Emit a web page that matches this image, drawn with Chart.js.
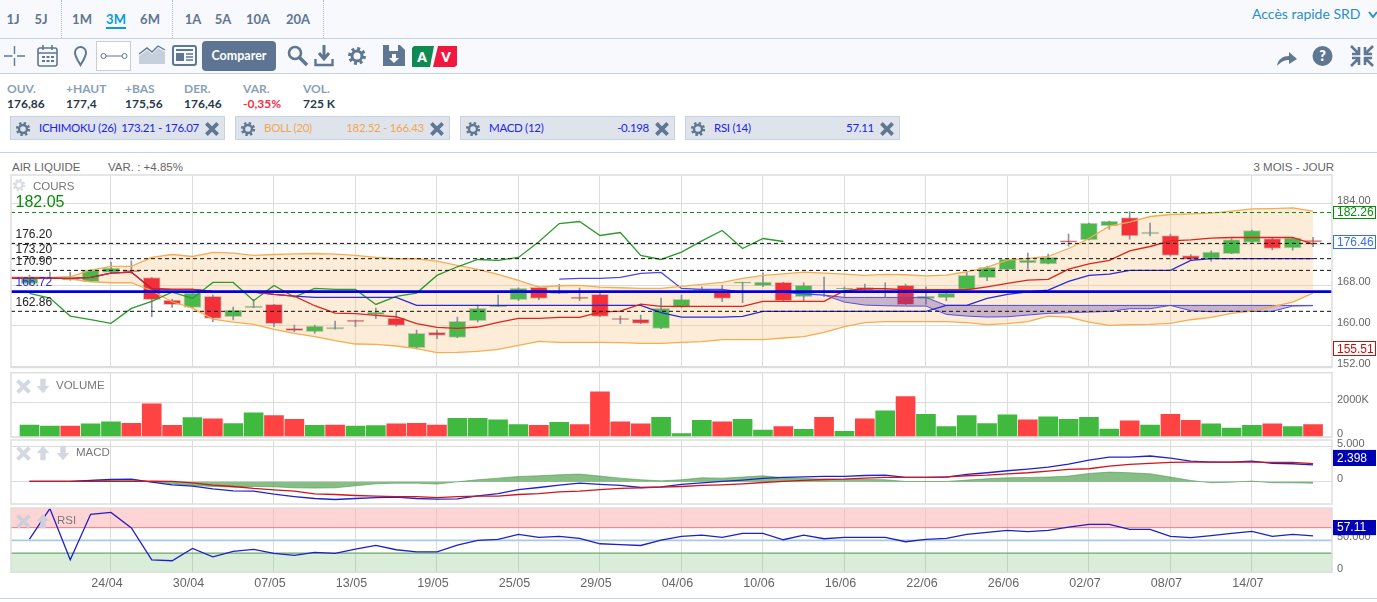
<!DOCTYPE html>
<html lang="fr">
<head>
<meta charset="utf-8">
<title>AIR LIQUIDE - 3 mois</title>
<script src="https://cdn.jsdelivr.net/npm/chart.js@4/dist/chart.umd.min.js"></script>
<style>
  html, body { margin: 0; padding: 0; background: #fff; overflow: hidden; }
  body { width: 1377px; height: 602px; position: relative; font-family: Lato, "Open Sans", sans-serif; }
  .abs, canvas { position: absolute; }
  .bar { left: 0; width: 1377px; background: #f8f9fd; border-bottom: 1px solid #c6d3e0; box-sizing: border-box; }
  .tab { top: 11px; font-size: 13px; font-weight: 700; color: #5f7590; transform: translateX(-50%); }
  .sep { top: 0; height: 38px; border-left: 1px dotted #aebccb; }
  .lab { top: 81px; font-size: 12px; font-weight: 700; color: #8a9fb8; }
  .val { top: 96px; font-size: 12px; font-weight: 700; color: #27384a; }
  .chip { top: 116px; height: 24px; background: #dfe4ec; border: 1px solid #c6d3e0; box-sizing: border-box; }
  .chip span { position: absolute; top: 4px; font-size: 11.5px; letter-spacing: -0.3px; white-space: nowrap; }
  .pane { font-family: "Liberation Sans", Arial, sans-serif; font-size: 11.5px; color: #777; z-index: 3; }
  .info { top: 161px; font-family: "Liberation Sans", Arial, sans-serif; font-size: 11.5px; color: #666; }
  svg { position: absolute; overflow: visible; }
</style>
</head>
<body>
<svg width="0" height="0">
  <symbol id="gear" viewBox="-10 -10 20 20" overflow="visible">
    <circle r="5" fill="none" stroke="currentColor" stroke-width="3"/>
    <circle r="7.4" fill="none" stroke="currentColor" stroke-width="3" stroke-dasharray="3 2.8"/>
  </symbol>
  <symbol id="cross" viewBox="-10 -10 20 20"><path d="M-7-7L7 7M7-7L-7 7" stroke="currentColor" stroke-width="4.6"/></symbol>
  <symbol id="down" viewBox="-10 -10 20 20"><path d="M-3-8H3V0H7L0 8L-7 0H-3Z" fill="currentColor"/></symbol>
  <symbol id="up" viewBox="-10 -10 20 20"><path d="M-3 8H3V0H7L0-8L-7 0H-3Z" fill="currentColor"/></symbol>
</svg>

<div class="abs bar" style="top:0;height:39px"></div>
<div class="abs bar" style="top:39px;height:35px"></div>
<div class="abs sep" style="left:61px"></div><div class="abs sep" style="left:172px"></div><div class="abs sep" style="left:323px"></div>
<div class="abs tab" style="left:13px">1J</div><div class="abs tab" style="left:41px">5J</div>
<div class="abs tab" style="left:82px">1M</div><div class="abs tab" style="left:116px;color:#0a9bd6">3M</div><div class="abs tab" style="left:150px">6M</div>
<div class="abs tab" style="left:193px">1A</div><div class="abs tab" style="left:223px">5A</div><div class="abs tab" style="left:258px">10A</div><div class="abs tab" style="left:298px">20A</div>
<div class="abs" style="left:106px;top:27px;width:20px;height:2px;background:#0a9bd6"></div>
<div class="abs" style="left:1252px;top:5px;font-size:14px;color:#2a8fc9">Accès rapide SRD</div>
<svg style="left:1368px;top:10px" width="9" height="9"><path d="M1 2L5 7L9 2" fill="none" stroke="#2a8fc9" stroke-width="2"/></svg>

<!-- barre d'outils -->
<svg style="left:0;top:39px" width="470" height="34" color="#5f7792">
  <path d="M14.5 7V15M14.5 19V27M4 17H12.5M17 17H25" stroke="#5f7792" stroke-width="1.4" fill="none"/>
  <rect x="38" y="9" width="19" height="18" rx="2" fill="none" stroke="#5f7792" stroke-width="1.6"/>
  <path d="M38 14H57M43 6V11M52 6V11" stroke="#5f7792" stroke-width="1.6"/>
  <path d="M42 17h3v2h-3zM46.5 17h3v2h-3zM51 17h3v2h-3zM42 21h3v2h-3zM46.5 21h3v2h-3zM51 21h3v2h-3z" fill="#5f7792"/>
  <path d="M80.5 26C77 20 75 17.5 75 13.5A5.5 5.5 0 0 1 86 13.5C86 17.5 84 20 80.5 26Z" fill="none" stroke="#5f7792" stroke-width="2"/>
  <rect x="96.5" y="2.5" width="34" height="29" fill="#fff" stroke="#c9ced4"/>
  <path d="M106 17H122" stroke="#5f7792"/><circle cx="103.5" cy="17" r="2.5" fill="#fff" stroke="#5f7792"/><circle cx="124.5" cy="17" r="2.5" fill="#fff" stroke="#5f7792"/>
  <path d="M139 25V17L147 11L152 15L158 9L165 13V25Z" fill="#c5d0dc"/><path d="M139 15L147 9L152 13L158 7L165 11" fill="none" stroke="#5f7792" stroke-width="1.4"/>
  <rect x="173" y="7" width="23" height="19" rx="2" fill="none" stroke="#5f7792" stroke-width="2"/>
  <path d="M176 11H193" stroke="#5f7792" stroke-width="2"/><rect x="176" y="14" width="8" height="8" fill="#5f7792"/><path d="M186 15H193M186 18H193M186 21H193" stroke="#5f7792" stroke-width="1.4"/>
  <circle cx="295" cy="14" r="6" fill="none" stroke="#5f7792" stroke-width="2.6"/><path d="M299.5 18.5L307 26" stroke="#5f7792" stroke-width="3.5"/>
  <path d="M324 6V19M319 14L324 20L329 14" fill="none" stroke="#5f7792" stroke-width="3"/><path d="M315.5 20V26H332.5V20" fill="none" stroke="#5f7792" stroke-width="2.4"/>
  <use href="#gear" x="347" y="7" width="20" height="20"/>
  <path d="M383 6H400L405 11V27H383Z" fill="#5f7792"/><rect x="389" y="6" width="9" height="6" fill="#f8f9fd"/><path d="M392 15H396V19H399L394 24L389 19H392Z" fill="#f8f9fd"/>
  <path d="M414 7H434L430 28H412V9Z" fill="#0e8a52"/><path d="M438 7H457V26L455 28H433Z" fill="#f0183e"/>
  <text x="422" y="23" font-size="13.5" font-weight="800" fill="#fff" text-anchor="middle" font-family="Lato">A</text>
  <text x="446" y="23" font-size="13.5" font-weight="800" fill="#fff" text-anchor="middle" font-family="Lato">V</text>
</svg>
<div class="abs" style="left:202px;top:41px;width:74px;height:30px;line-height:30px;background:#5d7592;border-radius:4px;color:#fff;font-size:12.5px;font-weight:700;text-align:center">Comparer</div>
<svg style="left:1270px;top:39px" width="107" height="34">
  <path d="M7 27C8 20 13 17 19 17V13L27 20L19 25V21C14 21 11 23 7 27Z" fill="#5f7792"/>
  <circle cx="52.5" cy="17" r="10" fill="#5f7792"/>
  <text x="52.5" y="22" font-size="14" font-weight="800" fill="#fff" text-anchor="middle" font-family="Lato">?</text>
  <path d="M81 7L89 15M89 8V15H82M103 7L95 15M95 8V15H102M81 27L89 19M89 26V19H82M103 27L95 19M95 26V19H102" fill="none" stroke="#5f7792" stroke-width="2.6"/>
</svg>

<!-- cotation -->
<div class="abs lab" style="left:7px">OUV.</div><div class="abs val" style="left:7px">176,86</div>
<div class="abs lab" style="left:66px">+HAUT</div><div class="abs val" style="left:66px">177,4</div>
<div class="abs lab" style="left:125px">+BAS</div><div class="abs val" style="left:125px">175,56</div>
<div class="abs lab" style="left:184px">DER.</div><div class="abs val" style="left:184px">176,46</div>
<div class="abs lab" style="left:243px">VAR.</div><div class="abs val" style="left:243px;color:#f0304a">-0,35%</div>
<div class="abs lab" style="left:303px">VOL.</div><div class="abs val" style="left:303px">725 K</div>

<!-- indicateurs -->
<div class="abs chip" style="left:10px;width:215px;color:#5f7792">
  <svg style="left:4px;top:4px" width="16" height="16"><use href="#gear" width="16" height="16"/></svg>
  <span style="left:28px;color:#2222ee">ICHIMOKU (26)</span><span style="right:25px;color:#2222ee">173.21 - 176.07</span>
  <svg style="right:4px;top:4px" width="16" height="16"><use href="#cross" width="16" height="16"/></svg>
</div>
<div class="abs chip" style="left:235px;width:215px;color:#5f7792">
  <svg style="left:4px;top:4px" width="16" height="16"><use href="#gear" width="16" height="16"/></svg>
  <span style="left:28px;color:#f0a850">BOLL (20)</span><span style="right:25px;color:#f0a850">182.52 - 166.43</span>
  <svg style="right:4px;top:4px" width="16" height="16"><use href="#cross" width="16" height="16"/></svg>
</div>
<div class="abs chip" style="left:460px;width:215px;color:#5f7792">
  <svg style="left:4px;top:4px" width="16" height="16"><use href="#gear" width="16" height="16"/></svg>
  <span style="left:28px;color:#2222ee">MACD (12)</span><span style="right:25px;color:#2222ee">-0.198</span>
  <svg style="right:4px;top:4px" width="16" height="16"><use href="#cross" width="16" height="16"/></svg>
</div>
<div class="abs chip" style="left:685px;width:215px;color:#5f7792">
  <svg style="left:4px;top:4px" width="16" height="16"><use href="#gear" width="16" height="16"/></svg>
  <span style="left:28px;color:#2222ee">RSI (14)</span><span style="right:25px;color:#2222ee">57.11</span>
  <svg style="right:4px;top:4px" width="16" height="16"><use href="#cross" width="16" height="16"/></svg>
</div>
<div class="abs" style="left:0;top:152px;width:1377px;border-top:1px solid #c6d3e0"></div>
<div class="abs info" style="left:12px">AIR LIQUIDE</div>
<div class="abs info" style="left:108px">VAR. : +4.85%</div>
<div class="abs info" style="right:43px">3 MOIS - JOUR</div>

<canvas id="cours" width="1377" height="205" style="left:0;top:170px"></canvas>
<canvas id="volume" width="1377" height="72" style="left:0;top:368px"></canvas>
<canvas id="macd" width="1377" height="68" style="left:0;top:438px"></canvas>
<canvas id="rsi" width="1377" height="85" style="left:0;top:505px"></canvas>
<div class="abs" style="left:0;top:598px;width:1377px;border-top:1px solid #c6d3e0"></div>

<!-- libellés des panneaux -->
<svg class="abs" style="left:12px;top:178px;z-index:3;color:#d7dce4" width="14" height="14"><use href="#gear" width="14" height="14"/></svg>
<div class="abs pane" style="left:33px;top:180px">COURS</div>
<svg class="abs" style="left:15px;top:378px;z-index:3;color:#d3d8e2" width="17" height="17"><use href="#cross" width="17" height="17"/></svg>
<svg class="abs" style="left:34px;top:377px;z-index:3;color:#d3d8e2" width="18" height="18"><use href="#down" width="18" height="18"/></svg>
<div class="abs pane" style="left:56px;top:379px">VOLUME</div>
<svg class="abs" style="left:15px;top:445px;z-index:3;color:#d3d8e2" width="17" height="17"><use href="#cross" width="17" height="17"/></svg>
<svg class="abs" style="left:34px;top:444px;z-index:3;color:#d3d8e2" width="18" height="18"><use href="#up" width="18" height="18"/></svg>
<svg class="abs" style="left:54px;top:444px;z-index:3;color:#d3d8e2" width="18" height="18"><use href="#down" width="18" height="18"/></svg>
<div class="abs pane" style="left:76px;top:446px">MACD</div>
<svg class="abs" style="left:15px;top:513px;z-index:3;color:#cdd0da" width="17" height="17"><use href="#cross" width="17" height="17"/></svg>
<svg class="abs" style="left:34px;top:512px;z-index:3;color:#cdd0da" width="18" height="18"><use href="#up" width="18" height="18"/></svg>
<div class="abs pane" style="left:57px;top:514px">RSI</div>

<script>
const tickLabels = ["24/04", "30/04", "07/05", "13/05", "19/05", "25/05", "29/05", "04/06", "10/06", "16/06", "22/06", "26/06", "02/07", "08/07", "14/07"];
const tickIndexes = [4, 8, 12, 16, 20, 24, 28, 32, 36, 40, 44, 48, 52, 56, 60];

// bougies
const openValues = [168.27,169.32,168.99,168.67,170.50,170.89,169.51,165.07,163.63,165.79,161.80,163.57,164.22,159.51,158.86,159.38,161.15,162.19,161.54,155.72,158.73,157.75,161.02,163.76,165.14,167.55,166.77,165.66,166.18,161.48,161.28,159.51,163.63,166.90,166.70,168.40,167.88,168.53,165.72,166.70,167.29,167.55,166.51,167.95,165.33,165.53,167.16,169.45,171.02,172.39,172.19,176.77,176.90,179.65,181.28,178.08,177.75,173.83,173.24,174.16,176.38,177.16,175.33,176.86];
const closeValues = [169.45,169.51,169.19,170.95,171.35,170.63,165.14,164.16,166.44,161.48,163.11,163.89,160.43,159.06,159.97,159.71,160.82,162.72,160.10,158.53,158.14,160.89,163.44,163.96,167.36,165.40,166.31,165.33,161.87,161.21,160.50,163.44,165.20,167.16,165.40,168.60,168.60,164.94,167.95,166.90,167.42,167.03,166.90,164.16,165.85,166.44,169.91,171.48,173.11,172.91,173.44,176.44,180.17,180.56,177.68,178.40,173.83,173.04,174.48,176.97,178.73,175.20,177.23,176.46];
const highValues = [169.97,170.56,170.56,170.95,172.52,172.78,169.51,165.20,166.44,166.05,163.70,165.20,164.22,160.17,160.17,160.95,161.15,163.50,162.78,159.19,159.19,161.74,164.09,166.05,167.49,167.68,168.14,167.42,166.38,161.93,162.13,165.46,166.05,167.68,167.95,168.60,170.43,168.53,168.47,169.58,167.68,168.21,168.47,168.21,167.68,167.03,170.76,171.74,173.24,174.29,174.09,178.01,180.17,180.56,182.46,180.17,178.01,174.02,174.74,177.16,178.80,177.29,177.36,177.40];
const lowValues = [168.01,169.25,168.99,168.67,170.30,170.30,161.80,163.63,163.63,160.82,161.15,163.57,159.84,158.86,158.53,159.38,159.84,161.41,159.97,155.46,157.49,157.69,160.76,163.76,164.94,165.14,166.31,164.94,161.80,160.43,160.43,159.45,163.63,166.83,164.74,164.55,167.68,164.94,164.94,165.72,165.59,166.90,165.72,164.16,164.29,164.94,167.16,168.86,170.95,171.15,172.19,175.66,176.90,178.99,177.03,177.68,173.70,172.91,172.72,174.16,176.38,174.94,174.87,175.56];

// bollinger et ichimoku : le premier point est la veille de la premiere bougie
const bollUpper = [169.51,169.51,169.51,169.65,170.95,171.67,171.67,173.44,174.02,173.63,174.42,174.29,173.83,174.02,174.16,174.22,174.09,173.83,173.44,173.18,173.18,172.72,171.87,171.08,170.10,168.93,167.62,167.88,167.95,167.62,167.49,167.36,167.36,167.75,168.14,168.53,169.32,169.91,170.23,170.56,170.37,170.17,169.91,170.10,170.04,169.84,169.97,170.63,171.54,172.91,173.24,173.63,175.20,177.16,179.58,180.36,181.48,181.87,182.00,182.13,182.52,182.98,183.04,183.18,182.52];
const bollLower = [169.51,169.51,169.51,169.25,168.67,168.47,168.47,166.90,164.74,163.50,161.35,160.76,160.30,159.32,158.53,157.88,157.10,156.44,156.38,156.05,155.53,154.74,154.81,155.01,155.40,156.18,156.97,156.77,156.77,156.77,156.70,156.57,156.57,156.77,156.90,157.29,157.29,157.29,157.62,157.88,158.73,159.84,160.63,160.82,160.82,160.82,160.82,160.63,160.23,160.43,160.82,161.93,161.74,160.76,160.10,160.23,160.30,160.50,161.21,161.67,162.46,162.91,163.76,164.68,166.43];
const kijunValues = [169.38,169.38,169.38,169.32,169.51,170.36,170.56,167.29,167.16,167.16,166.77,166.64,166.64,166.18,165.85,163.96,162.52,162.39,162.06,161.80,160.43,159.71,159.51,159.78,160.69,161.48,161.48,161.67,161.67,162.72,162.91,164.29,163.83,163.83,163.83,163.83,163.83,164.81,164.81,164.81,164.81,166.90,167.29,167.29,167.10,167.10,167.10,167.10,167.68,168.34,168.99,169.12,171.15,172.19,172.85,174.74,175.59,176.70,176.90,177.23,177.36,177.36,177.36,177.36,176.07];
const tenkanValues = [169.38,169.38,169.38,169.32,169.51,170.36,170.56,167.29,167.16,167.16,166.77,166.64,166.64,166.18,165.85,165.59,165.59,165.59,165.59,165.59,164.02,164.02,164.02,164.02,164.02,164.02,164.02,164.02,164.02,164.02,164.02,164.02,162.59,161.74,161.74,161.74,161.87,162.85,162.85,162.85,162.85,162.85,162.85,162.85,162.85,162.85,164.02,164.02,165.40,166.18,166.70,167.03,168.73,169.91,170.17,170.89,170.89,170.89,172.85,173.21,173.21,173.21,173.21,173.21,173.21];
// senkou A commence a la bougie 26, le nuage a la bougie 39
const senkouAStart = [169.19,169.32,169.32,169.51,170.30,170.50,167.36,167.16,167.16,166.64,166.64,166.57,166.31,166.05];
const senkouA = [166.05,164.68,164.09,163.96,163.89,163.89,162.26,161.93,161.74,161.80,162.13,162.46,162.59,162.72,162.85,163.37,163.37,164.02,162.98,162.78,162.85,162.85,162.85,163.89,163.96];
const senkouB = [166.05,165.59,165.59,165.59,165.59,165.59,164.02,164.02,164.02,164.02,164.02,164.02,164.02,164.02,164.02,164.02,164.02,164.02,164.02,164.02,164.02,164.02,164.02,164.02,164.02];
const chikouValues = [166.38,165.46,161.93,161.21,160.50,163.44,164.81,166.64,165.40,168.53,168.53,164.94,167.95,165.66,167.36,167.16,167.16,164.22,165.79,166.44,169.91,171.61,173.04,172.85,173.44,176.51,180.10,180.50,177.75,178.34,173.83,173.04,174.48,176.70,178.73,175.20,177.16,176.57];
const levelValues = [176.2, 173.2, 170.9, 166.72, 162.86];
const resistanceLevel = 182.26;
const resistanceLabel = "182.05";
const lastPrice = 176.46;
const lowestPrice = 155.51;

const volumeValues = [698,640,640,757,873,795,1920,680,1125,1048,776,1397,1242,1028,679,698,640,660,757,795,698,1086,1086,989,718,679,854,718,2620,873,757,1145,194,970,873,1028,407,601,446,1145,330,1048,1513,2347,1319,601,1242,776,1280,989,1164,1028,1145,466,931,698,1319,970,757,524,679,757,601,725];
const volumeSides = "ggrggrrrgr" + "ggrrgrggrr" + "rggggrgrrr" + "rgggrggrgr" + "grgrgggggr" + "ggggrgrrgg" + "grgr";

const macdValues = [.05,.05,.05,.19,.33,.38,-.05,-.43,-.62,-1,-1.29,-1.33,-1.76,-2.1,-2.38,-2.52,-2.38,-2.24,-2.19,-2.38,-2.48,-2.43,-2,-1.67,-1.1,-.81,-.48,-.19,-.38,-.52,-.81,-.71,-.38,-.14,.05,.24,.48,.62,.71,.76,.76,.9,.95,.62,.62,.67,1.05,1.29,1.57,1.81,2.1,2.52,3.1,3.52,3.52,3.67,3.38,2.95,2.81,2.81,2.95,2.62,2.57,2.398];
const signalValues = [.05,.05,.05,.05,.05,.05,.1,.05,-.14,-.48,-.67,-.95,-1.14,-1.33,-1.71,-1.81,-1.95,-2.05,-2.1,-2.1,-2.24,-2.1,-2.05,-2.05,-1.81,-1.67,-1.43,-1.33,-1.1,-.95,-.86,-.76,-.67,-.52,-.43,-.29,-.1,.05,.19,.33,.38,.52,.62,.62,.62,.71,.86,.95,1.14,1.29,1.52,1.76,1.86,2.24,2.48,2.62,2.76,2.81,2.81,2.81,2.81,2.76,2.76,2.6];
const histValues = [.05,.05,.05,.19,.29,.24,0,-.29,-.52,-.67,-.76,-.67,-.71,-.86,-.9,-.86,-.57,-.29,-.19,-.19,-.33,0,.29,.52,.76,.86,1,1.1,.81,.52,.29,.14,.29,.57,.52,.67,.86,.57,.48,.38,.38,.33,.29,.05,.05,.05,.24,.43,.57,.62,.67,.81,1.19,1.38,1.29,1.14,.67,.19,-.14,-.05,.1,-.14,-.14,-.198];
const macdLabel = "2.398";

const rsiValues = [52.1,100,19.5,91,94,69.5,19.5,18,37.4,24.2,32.6,35.8,29.5,26.3,31,29.5,36.3,42,35.3,32,32,42.6,50,51.6,59.5,54.7,56.3,53.2,44.7,43.2,42,50.5,56.3,58.4,54.7,61,61,51,58.4,52.6,54.7,54.7,54.7,47.9,51.6,53.2,59.5,62.6,65.8,63.7,65.8,71,75.3,75.3,67.4,67.4,56.3,54.2,57.4,61,64.2,56.3,59.5,57.11];
const rsiBands = [70, 50, 30];
const rsiLabel = "57.11";

// axe x commun aux quatre panneaux
const xMin = -0.908, xMax = 63.93;
const gridColor = "#dcdcdc";
const axisFont = { family: "'Liberation Sans', Arial, sans-serif", size: 11 };

const xAxis = (height, showLabels) => ({
  type: "linear",
  min: xMin,
  max: xMax,
  offset: false,
  afterBuildTicks: (s) => { s.ticks = tickIndexes.map((value) => ({ value })); },
  afterFit: (s) => {
    s.height = height;
    s.paddingLeft = 0;
    s.paddingRight = 0;
  },
  grid: { color: gridColor, drawTicks: false, offset: false },
  border: { display: false },
  ticks: {
    display: showLabels,
    autoSkip: false,
    maxRotation: 0,
    padding: 4,
    labelOffset: -4,
    color: "#666",
    font: { family: "'Liberation Sans Narrow', 'Liberation Sans', sans-serif", size: 12.5 },
    callback: (v) => tickLabels[tickIndexes.indexOf(v)],
  },
});

const yAxis = (min, max, tickValues, format) => ({
  position: "right",
  min,
  max,
  afterBuildTicks: (s) => { s.ticks = tickValues.map((value) => ({ value })); },
  afterFit: (s) => {
    s.width = 45;
    s.paddingTop = 0;
    s.paddingBottom = 0;
  },
  grid: { color: gridColor, drawTicks: false },
  border: { display: false },
  ticks: { padding: 5, labelOffset: -3, color: "#666", font: axisFont, callback: format },
});

const lineSet = (values, start, color, width, extra) => ({
  type: "line",
  data: values.map((y, i) => ({ x: i + start, y })),
  borderColor: color,
  borderWidth: width,
  pointRadius: 0,
  tension: 0,
  fill: false,
  ...extra,
});

const levelSet = (y, color, width, dash, extra) => ({
  type: "line",
  data: [{ x: xMin, y }, { x: xMax, y }],
  borderColor: color,
  borderWidth: width,
  borderDash: dash,
  pointRadius: 0,
  fill: false,
  ...extra,
});

// cadre du panneau
const frame = {
  id: "frame",
  afterDatasetsDraw(chart) {
    const { ctx, chartArea: a } = chart;
    ctx.save();
    ctx.strokeStyle = "#dedede";
    ctx.lineWidth = 1.5;
    ctx.strokeRect(a.left, a.top, a.right - a.left, a.bottom - a.top);
    ctx.restore();
  },
};

function valueBox(ctx, y, text, color, fill, height) {
  const x = 1333, w = 43;
  ctx.fillStyle = fill;
  ctx.fillRect(x, y - height / 2, w, height);
  ctx.strokeStyle = color;
  ctx.lineWidth = 1;
  ctx.strokeRect(x + 0.5, Math.round(y - height / 2) + 0.5, w - 1, height - 1);
  ctx.fillStyle = fill === "#fff" ? color : "#fff";
  ctx.font = axisFont.size + 1 + "px 'Liberation Sans', Arial, sans-serif";
  ctx.textAlign = "left";
  ctx.textBaseline = "middle";
  ctx.fillText(text, x + 4, y + 0.5);
}

const coursText = {
  id: "coursText",
  afterDraw(chart) {
    const { ctx, scales: { y } } = chart;
    ctx.save();
    ctx.textAlign = "left";
    ctx.textBaseline = "middle";
    ctx.font = "12px 'Liberation Sans', Arial, sans-serif";
    levelValues.forEach((v) => {
      ctx.fillStyle = v === 166.72 ? "#2b2bf0" : "#222";
      ctx.fillText(v.toFixed(2), 15.5, y.getPixelForValue(v) - 9);
    });
    ctx.fillStyle = "#0a8a0a";
    ctx.font = "16px 'Liberation Sans', Arial, sans-serif";
    ctx.fillText(resistanceLabel, 15.5, y.getPixelForValue(resistanceLevel) - 10);
    valueBox(ctx, y.getPixelForValue(resistanceLevel), resistanceLevel.toFixed(2), "#0a8a0a", "#fff", 13);
    valueBox(ctx, y.getPixelForValue(lastPrice), lastPrice.toFixed(2), "#3a6ee8", "#fff", 14);
    valueBox(ctx, y.getPixelForValue(lowestPrice), lowestPrice.toFixed(2), "#c80f0f", "#fff", 15);
    ctx.restore();
  },
};

const indexed = (values, start = 0) => values.map((v, i) => ({ x: i + start, y: v }));
const candleColor = (i) => (closeValues[i] >= openValues[i] ? "#4ab94c" : "#f42f38");
const paneLayout = (top) => ({ autoPadding: false, padding: { left: 11, top } });

// le premier jeu de donnees est dessine au dessus des suivants
new Chart(document.getElementById("cours"), {
  type: "bar",
  data: {
    datasets: [
      levelSet(levelValues[3], "#0000e6", 2.6),
      levelSet(resistanceLevel, "#0a8a0a", 1, [4, 3]),
      levelSet(levelValues[0], "#111", 1, [4, 3]),
      levelSet(levelValues[1], "#111", 1, [4, 3]),
      levelSet(levelValues[2], "#111", 1, [4, 3]),
      levelSet(levelValues[4], "#111", 1, [4, 3]),
      lineSet(kijunValues, -1, "#e2231a", 1.3),
      lineSet(tenkanValues, -1, "#2a2ad8", 1.3),
      lineSet(chikouValues, 0, "#2c9a2c", 1.3),
      lineSet(bollUpper, -1, "#f7ac4f", 1.3),
      lineSet(bollLower, -1, "#f7ac4f", 1.3),
      lineSet(senkouAStart, 26, "#4a4ae6", 1.3),
      lineSet(senkouA, 39, "#5050e0", 1, { fill: "+1", backgroundColor: "rgba(90,60,170,0.32)" }),
      lineSet(senkouB, 39, "#5050e0", 1),
      {
        data: indexed(openValues.map((o, i) => [o, closeValues[i]])),
        backgroundColor: openValues.map((o, i) => candleColor(i)),
        borderColor: "rgba(120,120,120,0.35)",
        borderWidth: 1,
        borderSkipped: false,
        barThickness: 17,
        grouped: false,
      },
      {
        data: indexed(lowValues.map((l, i) => [l, highValues[i]])),
        backgroundColor: "#8b949c",
        barThickness: 1,
        grouped: false,
      },
      lineSet(bollUpper, -1, "transparent", 0, { fill: "+1", backgroundColor: "rgba(249,200,140,0.35)" }),
      lineSet(bollLower, -1, "transparent", 0),
    ],
  },
  options: {
    responsive: false,
    animation: false,
    events: [],
    layout: paneLayout(5),
    plugins: { legend: { display: false }, tooltip: { enabled: false } },
    scales: {
      x: xAxis(7.5, false),
      y: yAxis(151.83, 189.63, [184, 176, 168, 160, 152], (v) => (v === 176 ? "" : v.toFixed(2))),
    },
  },
  plugins: [frame, coursText],
});

new Chart(document.getElementById("volume"), {
  type: "bar",
  data: {
    datasets: [
      {
        data: indexed(volumeValues),
        backgroundColor: volumeValues.map((v, i) => (volumeSides[i] === "g" ? "#3fba3f" : "#ff4343")),
        barThickness: 19,
      },
    ],
  },
  options: {
    responsive: false,
    animation: false,
    events: [],
    layout: paneLayout(4.7),
    plugins: { legend: { display: false }, tooltip: { enabled: false } },
    scales: {
      x: xAxis(3, false),
      y: yAxis(0, 3727, [0, 2000], (v) => (v === 0 ? "0" : v + "K")),
    },
  },
  plugins: [frame],
});

new Chart(document.getElementById("macd"), {
  type: "line",
  data: {
    datasets: [
      lineSet(signalValues, 0, "#d0161a", 1.3),
      lineSet(macdValues, 0, "#2222cc", 1.3),
      lineSet(histValues, 0, "rgba(70,150,70,0.55)", 1, { fill: "origin", backgroundColor: "rgba(60,150,60,0.62)" }),
    ],
  },
  options: {
    responsive: false,
    animation: false,
    events: [],
    layout: paneLayout(2),
    plugins: { legend: { display: false }, tooltip: { enabled: false } },
    scales: {
      x: xAxis(2, false),
      y: yAxis(-3.16, 5.95, [0, 5], (v) => (v === 0 ? "0" : v.toFixed(3))),
    },
  },
  plugins: [frame, {
    id: "macdBox",
    afterDraw(chart) {
      chart.ctx.save();
      valueBox(chart.ctx, chart.scales.y.getPixelForValue(3.4), macdLabel, "#0000b4", "#0000b4", 16);
      chart.ctx.restore();
    },
  }],
});

new Chart(document.getElementById("rsi"), {
  type: "line",
  data: {
    datasets: [
      lineSet(rsiValues, 0, "#2020c8", 1.3),
      levelSet(rsiBands[0], "#ee7a7a", 1, undefined, { fill: "end", backgroundColor: "rgba(255,170,170,0.5)" }),
      levelSet(rsiBands[1], "#a9c9ec", 1.6),
      levelSet(rsiBands[2], "#6da86d", 1.2, undefined, { fill: "start", backgroundColor: "rgba(120,190,120,0.28)" }),
    ],
  },
  options: {
    responsive: false,
    animation: false,
    events: [],
    layout: paneLayout(3),
    plugins: { legend: { display: false }, tooltip: { enabled: false } },
    scales: {
      x: xAxis(17.8, true),
      y: yAxis(0, 100.9, [0, 50], (v) => (v === 0 ? "0" : v.toFixed(3))),
    },
  },
  plugins: [frame, {
    id: "rsiBox",
    afterDraw(chart) {
      chart.ctx.save();
      valueBox(chart.ctx, chart.scales.y.getPixelForValue(70), rsiLabel, "#0000b4", "#0000b4", 15);
      chart.ctx.restore();
    },
  }],
});
</script>
</body>
</html>
